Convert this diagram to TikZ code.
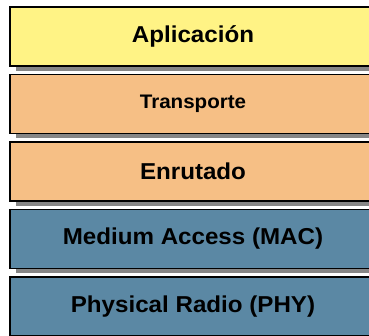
\documentclass[tikz,border=0pt]{standalone}
\usepackage{fontspec}
\setmainfont{Liberation Sans}
\newfontfamily\layerfont[FakeStretch=1.05]{Liberation Sans}
\usetikzlibrary{shadows}
\definecolor{appyellow}{RGB}{255,243,133}
\definecolor{netorange}{RGB}{246,191,133}
\definecolor{linkblue}{RGB}{91,136,164}
\tikzset{
  layer/.style={draw=black, line width=1.5pt, minimum width=366pt,
    minimum height=59pt, inner sep=0pt,
    font=\layerfont\bfseries\fontsize{23}{26}\selectfont,
    drop shadow={shadow xshift=6pt, shadow yshift=-5pt, fill=gray!95, opacity=1}},
}
\begin{document}
\begin{tikzpicture}[x=1pt, y=1pt]
      \useasboundingbox (0, 0) rectangle (369, 336);
      \clip (0, 0) rectangle (369, 336);
      \node[layer, fill=appyellow] (app) at (193, 299.5) {Aplicación};
      \node[layer, fill=netorange, font=\layerfont\bfseries\fontsize{19.6}{22}\selectfont] (trans) at (193, 232) {Transporte};
      \node[layer, fill=netorange] (route) at (193, 164.5) {Enrutado};
      \node[layer, fill=linkblue] (mac) at (193, 97) {Medium Access (MAC)};
      \node[layer, fill=linkblue] (phy) at (193, 29.5) {Physical Radio (PHY)};
    \end{tikzpicture}
\end{document}
